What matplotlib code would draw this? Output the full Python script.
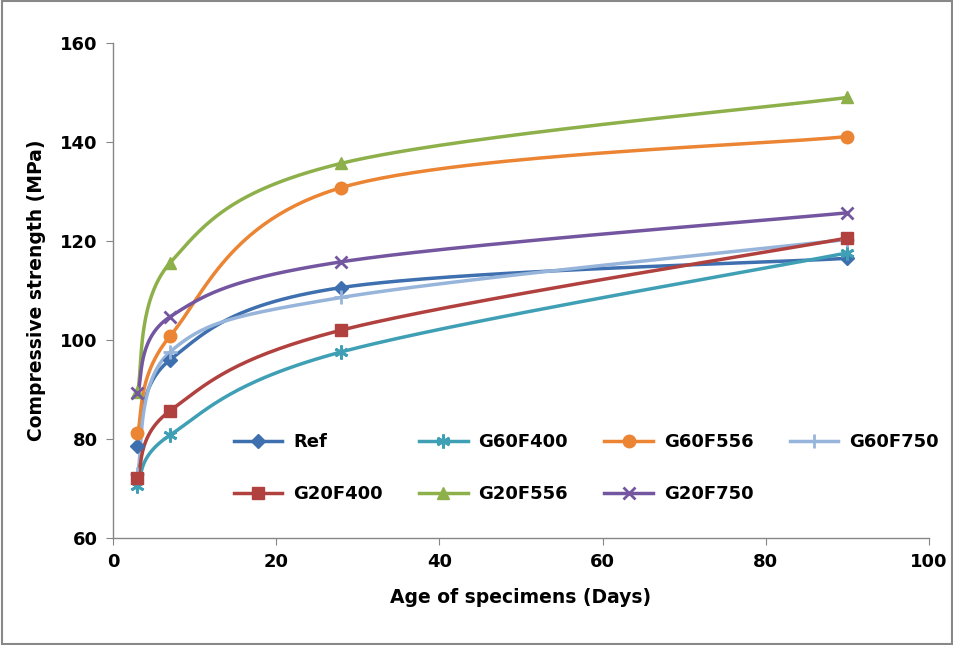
import numpy as np
import matplotlib
matplotlib.use("Agg")
import matplotlib.pyplot as plt
from matplotlib.lines import Line2D
from matplotlib.patches import Rectangle

days = [3, 7, 28, 90]
series_names = ["Ref", "G60F400", "G60F556", "G60F750", "G20F400", "G20F556", "G20F750"]
ref = [78.5, 96.0, 110.6, 116.5]
g60f400 = [70.6, 80.8, 97.6, 117.6]
g60f556 = [81.3, 100.8, 130.8, 141.1]
g60f750 = [73.0, 97.6, 108.6, 120.3]
g20f400 = [72.1, 85.7, 102.0, 120.6]
g20f556 = [89.5, 115.6, 135.7, 149.0]
g20f750 = [89.2, 104.7, 115.8, 125.7]
values = [ref, g60f400, g60f556, g60f750, g20f400, g20f556, g20f750]

colors = ["#3E6FAE", "#3FA0B5", "#EB8433", "#97B4DA", "#B0413E", "#8DB04A", "#7456A0"]
markers = ["D", (6, 2, 0), "o", "+", "s", "^", "x"]
msizes = [7, 10, 9, 10, 9, 9, 9]
thin = [False, True, False, True, False, False, True]

XMIN, XMAX, YMIN, YMAX = 0, 100, 60, 160

fig = plt.figure(figsize=(9.54, 6.45), dpi=100)
fig.patches.append(Rectangle((0.002, 0.002), 0.996, 0.996, transform=fig.transFigure,
                             fill=False, edgecolor="#888888", linewidth=1.5))
ax = fig.add_axes([113/954, 1-538/645, (929-113)/954, (538-43)/645])

def smooth(xs, ys, n=60):
    # Excel-like Bezier smoothing in normalized axes space
    px = (np.asarray(xs, float) - XMIN) / (XMAX - XMIN) * 816
    py = (np.asarray(ys, float) - YMIN) / (YMAX - YMIN) * 495
    P = np.column_stack([px, py])
    out = []
    m = len(P)
    for i in range(m - 1):
        p0 = P[i - 1] if i > 0 else P[i]
        p1 = P[i]
        p2 = P[i + 1]
        p3 = P[i + 2] if i + 2 < m else P[i + 1]
        c1 = p1 + (p2 - p0) / 6
        c2 = p2 - (p3 - p1) / 6
        t = np.linspace(0, 1, n)[:, None]
        seg = ((1-t)**3)*p1 + 3*((1-t)**2)*t*c1 + 3*(1-t)*t**2*c2 + t**3*p2
        out.append(seg if i == 0 else seg[1:])
    S = np.vstack(out)
    return S[:, 0] / 816 * (XMAX - XMIN) + XMIN, S[:, 1] / 495 * (YMAX - YMIN) + YMIN

for i in range(7):
    sx, sy = smooth(days, values[i])
    ax.plot(sx, sy, color=colors[i], lw=2.5, zorder=2 + i * 0.1, solid_capstyle="round")
    mew = 2 if thin[i] else 1
    ax.plot(days, values[i], linestyle="none", marker=markers[i], ms=msizes[i],
            color=colors[i], mec=colors[i], mew=mew, zorder=3 + i * 0.1)

ax.set_xlim(XMIN, XMAX)
ax.set_ylim(YMIN, YMAX)
ax.set_xticks(np.arange(0, 101, 20))
ax.set_yticks(np.arange(60, 161, 20))
for s in ["top", "right"]:
    ax.spines[s].set_visible(False)
for s in ["left", "bottom"]:
    ax.spines[s].set_color("#868686")
    ax.spines[s].set_linewidth(1)
ax.tick_params(direction="out", length=5, color="#868686", labelsize=13, pad=6)
for lab in ax.get_xticklabels() + ax.get_yticklabels():
    lab.set_fontweight("bold")
ax.set_xlabel("Age of specimens (Days)", fontsize=13.5, fontweight="bold", labelpad=12)
ax.set_ylabel("Compressive strength (MPa)", fontsize=13.5, fontweight="bold", labelpad=10)

handles = []
for i in range(7):
    mew = 2 if thin[i] else 1
    handles.append(Line2D([0], [0], color=colors[i], lw=2.5, marker=markers[i], ms=msizes[i],
                          mec=colors[i], mew=mew))
# row-major order for a 2x4 legend (matplotlib fills column-major)
leg_order = [0, 4, 1, 5, 2, 6, 3]
leg = ax.legend([handles[k] for k in leg_order], [series_names[k] for k in leg_order],
                ncol=4, loc="upper left", bbox_to_anchor=(0.128, 0.245),
                frameon=False, handlelength=2.7, columnspacing=2.0,
                labelspacing=1.9, handletextpad=0.6, prop={"weight": "bold", "size": 13})

fig.savefig("out.png", dpi=100)
